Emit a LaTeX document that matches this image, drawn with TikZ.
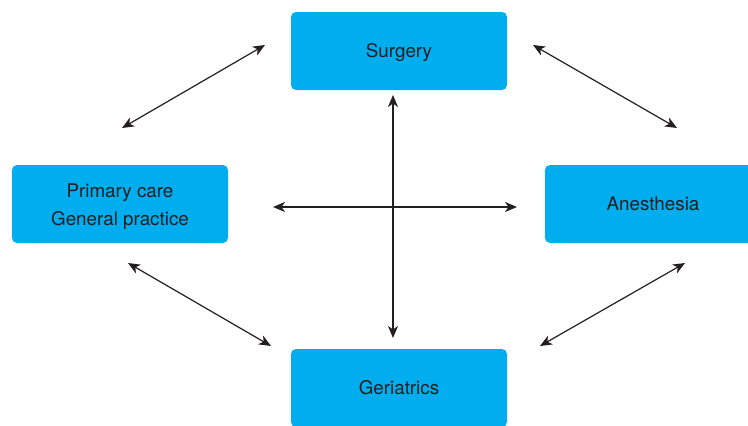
\documentclass[tikz,border=0pt]{standalone}
\usepackage{fontspec}
\setmainfont{TeX Gyre Heros}
\usetikzlibrary{arrows.meta}
\definecolor{boxblue}{HTML}{00AEEF}
\definecolor{inkgray}{HTML}{231F20}
\tikzset{
  field/.style={fill=boxblue, rounded corners=5pt, minimum width=216pt,
    minimum height=78pt, inner sep=0pt, text=inkgray, align=center,
    text height=18pt, text depth=4.5pt,
    font=\fontsize{18.8}{28}\selectfont},
  link/.style={{Stealth[length=12pt,width=10pt,inset=3.5pt]}-{Stealth[length=12pt,width=10pt,inset=3.5pt]},
    draw=inkgray, line width=1.2pt}
}
\begin{document}
\begin{tikzpicture}[x=1pt,y=-1pt]
      \useasboundingbox (0,0) rectangle (748,426);
      \clip (0,0) rectangle (748,426);
      \draw
        (399,51) node[field] (surgery){Surgery}
        (120,204) node[field, text height=46.5pt] (primary){Primary care\\General practice}
        (653,204) node[field] (anesthesia){Anesthesia}
        (399,388) node[field] (geriatrics){Geriatrics};
      \path
        (122,128) coordinate (sp1) (265,45) coordinate (sp2)
        (533,45) coordinate (sa1) (677,128) coordinate (sa2)
        (128,263) coordinate (pg1) (271,346) coordinate (pg2)
        (685,263) coordinate (ag1) (540,346) coordinate (ag2)
        (393,95) coordinate (top) (393,338) coordinate (bottom)
        (273,207) coordinate (left) (517,207) coordinate (right);
      \begin{scope}[link]
        \draw (sp1) to (sp2);
        \draw (sa1) to (sa2);
        \draw (pg1) to (pg2);
        \draw (ag1) to (ag2);
        \draw (top) to (bottom);
        \draw (left) to (right);
      \end{scope}
    \end{tikzpicture}
\end{document}
